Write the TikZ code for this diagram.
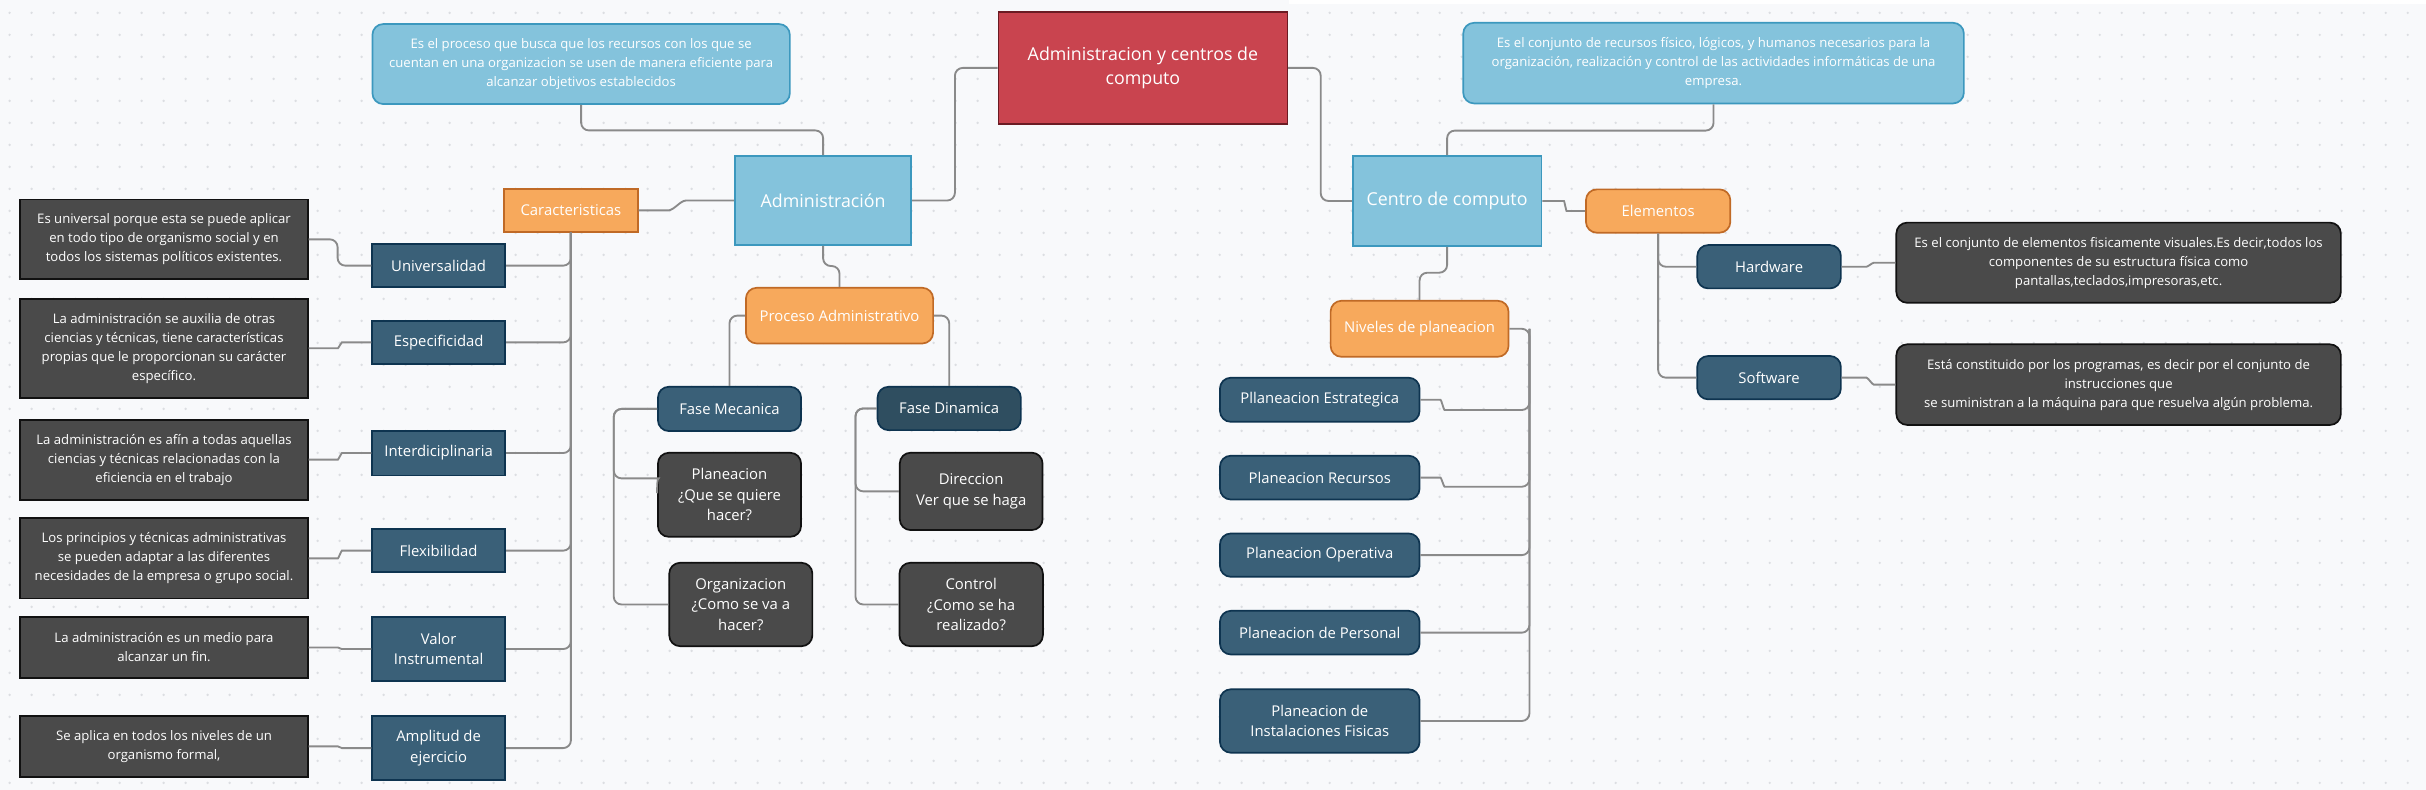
\documentclass[tikz,border=0pt]{standalone}
\usepackage{fontspec}
\setmainfont{Open Sans}
\definecolor{bgC}{HTML}{F8F9FB}
\definecolor{dotC}{HTML}{DCDEE2}
\definecolor{lbF}{HTML}{84C3DC}
\definecolor{lbD}{HTML}{3C98BE}
\definecolor{rdF}{HTML}{C9444F}
\definecolor{rdD}{HTML}{6B1B23}
\definecolor{ogF}{HTML}{F7A95C}
\definecolor{ogD}{HTML}{C06A26}
\definecolor{tlF}{HTML}{3A6078}
\definecolor{tlD}{HTML}{0E3450}
\definecolor{tdF}{HTML}{2F4E60}
\definecolor{dkF}{HTML}{4A4A4A}
\definecolor{dkD}{HTML}{111111}
\definecolor{cnC}{HTML}{8A8A8A}
\begin{document}
\begin{tikzpicture}[x=1pt,y=-1pt,
  base/.style={draw, line width=1.1pt, text=white, align=center, inner sep=1pt},
  rnd/.style={base, rounded corners=7pt},
  lb/.style={fill=lbF, draw=lbD},
  rd/.style={fill=rdF, draw=rdD},
  og/.style={fill=ogF, draw=ogD},
  tl/.style={fill=tlF, draw=tlD},
  td/.style={fill=tdF, draw=tlD},
  dk/.style={fill=dkF, draw=dkD},
  ftsmall/.style={font=\fontsize{8.5}{12.3}\selectfont},
  ftlab/.style={font=\fontsize{9.6}{13.3}\selectfont},
  ftbig/.style={font=\fontsize{11.5}{15.7}\selectfont},
  sz/.style 2 args={minimum width=#1, minimum height=#2},
  conn/.style={draw=cnC, line width=1.2pt, rounded corners=5pt}]
\useasboundingbox (0,0) rectangle (1568,510.6);
\fill[bgC] (0,0) rectangle (1568,510.6);
\fill[white] (833,0) rectangle (1568,2.5);
\foreach \i in {0,...,110}{\foreach \j in {0,...,35}{\fill[dotC] ({6.2+\i*14.22},{8.3+\j*14.22}) circle (0.85pt);}}

% top level
\node[base, rd, ftbig, sz={186.7pt}{72.7pt}] (root) at (738.7,43.9) {Administracion y centros de\\computo};
\node[rnd, lb, ftsmall, sz={269.8pt}{51.7pt}] (dl) at (375.6,41.4) {Es el proceso que busca que los recursos con los que se\\cuentan en una organizacion se usen de manera eficiente para\\alcanzar objetivos establecidos};
\node[rnd, lb, ftsmall, sz={323.6pt}{52.1pt}] (dr) at (1107.5,40.8) {Es el conjunto de recursos físico, lógicos, y humanos necesarios para la\\organización, realización y control de las actividades informáticas de una\\empresa.};
\node[base, lb, ftbig, sz={114pt}{57.6pt}] (adm) at (532,129.6) {Administración};
\node[base, lb, ftbig, sz={122pt}{58.2pt}] (centro) at (935.3,129.9) {Centro de computo};

% orange
\node[base, og, ftlab, sz={86.5pt}{27.6pt}] (car) at (369,136) {Caracteristicas};
\node[rnd, og, ftlab, sz={93.3pt}{28pt}] (elem) at (1071.7,136.4) {Elementos};
\node[rnd, og, ftlab, sz={121pt}{36pt}] (proc) at (542.6,204) {Proceso Administrativo};
\node[rnd, og, ftlab, sz={115pt}{36.2pt}] (niv) at (917.5,212.5) {Niveles de planeacion};

% left teal
\node[base, tl, ftlab, sz={86pt}{28pt}] (univ) at (283.5,171.7) {Universalidad};
\node[base, tl, ftlab, sz={86pt}{28pt}] (espec) at (283.5,221.3) {Especificidad};
\node[base, tl, ftlab, sz={86pt}{28.9pt}] (inter) at (283.5,292.8) {Interdiciplinaria};
\node[base, tl, ftlab, sz={86pt}{27.6pt}] (flex) at (283.5,355.9) {Flexibilidad};
\node[base, tl, ftlab, sz={86pt}{41pt}] (valor) at (283.5,419.5) {Valor\\Instrumental};
\node[base, tl, ftlab, sz={86pt}{41.4pt}] (ampl) at (283.5,483.5) {Amplitud de\\ejercicio};

% left dark
\node[base, dk, ftsmall, sz={185.7pt}{51.7pt}] (d1) at (106,154.7) {Es universal porque esta se puede aplicar\\en todo tipo de organismo social y en\\todos los sistemas políticos existentes.};
\node[base, dk, ftsmall, sz={185.7pt}{64pt}] (d2) at (106,225.1) {La administración se auxilia de otras\\ciencias y técnicas, tiene características\\propias que le proporcionan su carácter\\específico.};
\node[base, dk, ftsmall, sz={185.7pt}{51.7pt}] (d3) at (106,297.1) {La administración es afín a todas aquellas\\ciencias y técnicas relacionadas con la\\eficiencia en el trabajo};
\node[base, dk, ftsmall, sz={185.7pt}{51.8pt}] (d4) at (106,360.9) {Los principios y técnicas administrativas\\se pueden adaptar a las diferentes\\necesidades de la empresa o grupo social.};
\node[base, dk, ftsmall, sz={185.7pt}{39pt}] (d5) at (106,418.5) {La administración es un medio para\\alcanzar un fin.};
\node[base, dk, ftsmall, sz={185.7pt}{39.2pt}] (d6) at (106,482.4) {Se aplica en todos los niveles de un\\organismo formal,};

% proceso
\node[rnd, tl, ftlab, sz={92.5pt}{28.6pt}] (fmec) at (471.5,264.3) {Fase Mecanica};
\node[rnd, td, ftlab, sz={92.6pt}{28pt}] (fdin) at (613.5,264) {Fase Dinamica};
\node[rnd, dk, ftlab, sz={92.5pt}{54.3pt}] (pq) at (471.5,319.8) {Planeacion\\¿Que se quiere\\hacer?};
\node[rnd, dk, ftlab, sz={92.5pt}{53.9pt}] (org) at (478.8,390.7) {Organizacion\\¿Como se va a\\hacer?};
\node[rnd, dk, ftlab, sz={92.3pt}{50pt}] (dir) at (627.7,317.6) {Direccion\\Ver que se haga};
\node[rnd, dk, ftlab, sz={92.7pt}{53.9pt}] (ctrl) at (627.7,390.7) {Control\\¿Como se ha\\realizado?};

% right side
\node[rnd, tl, ftlab, sz={92.8pt}{28pt}] (hw) at (1143.4,172.4) {Hardware};
\node[rnd, tl, ftlab, sz={92.8pt}{28pt}] (sw) at (1143.4,244.1) {Software};
\node[rnd, dk, ftsmall, sz={287.3pt}{51.8pt}] (hwd) at (1369.3,169.8) {Es el conjunto de elementos fisicamente visuales.Es decir,todos los\\componentes de su estructura física como\\pantallas,teclados,impresoras,etc.};
\node[rnd, dk, ftsmall, sz={287.3pt}{52.1pt}] (swd) at (1369.3,248.6) {Está constituido por los programas, es decir por el conjunto de\\instrucciones que\\se suministran a la máquina para que resuelva algún problema.};

\node[rnd, tl, ftlab, sz={129pt}{28.5pt}] (pe) at (853,258.4) {Pllaneacion Estrategica};
\node[rnd, tl, ftlab, sz={129pt}{28.3pt}] (pr) at (853,308.7) {Planeacion Recursos};
\node[rnd, tl, ftlab, sz={129pt}{28pt}] (po) at (853,358.8) {Planeacion Operativa};
\node[rnd, tl, ftlab, sz={129pt}{28.2pt}] (pp) at (853,408.9) {Planeacion de Personal};
\node[rnd, tl, ftlab, sz={129pt}{41pt}] (pi) at (853,466) {Planeacion de\\Instalaciones Fisicas};

% connectors
\draw[conn] (root.west) -- ++(-27.6,0) |- (adm.east);
\draw[conn] (root.east) -- ++(21,0) |- (centro.west);
\draw[conn] (dl.south) -- ++(0,16.5) -| (adm.north);
\draw[conn] (dr.south) -- ++(0,17) -| (centro.north);
\draw[conn] (adm.west) -- ++(-26,0) to[out=180,in=0] ([xshift=14pt]car.east) -- (car.east);
\draw[conn] (adm.south) -- ++(0,13) -| (proc.north);

\foreach \t in {univ,espec,inter,flex,valor,ampl}{\draw[conn] (\t.east) -| (car.south);}
\draw[conn] (d1.east) -- ++(18.8,0) |- (univ.west);
\foreach \d/\t in {d2/espec,d3/inter,d4/flex,d5/valor,d6/ampl}{\draw[conn] (\d.east) -- ++(14,0) to[out=0,in=180] ([xshift=-14pt]\t.west) -- (\t.west);}

\draw[conn] (proc.west) -| (fmec.north);
\draw[conn] (proc.east) -| (fdin.north);
\draw[conn] (fmec.west) -- ++(-28,0) |- (org.west);
\draw[conn] (fmec.west) -- ++(-28,0) |- ([xshift=-4pt,yshift=10.6pt]pq.west) to[out=0,in=90] ([yshift=1pt]pq.west);
\draw[conn] (fdin.west) -- ++(-13.7,0) |- (ctrl.west);
\draw[conn] (fdin.west) -- ++(-13.7,0) |- (dir.west);

\draw[conn] (centro.south) -- ++(0,16.7) -| (niv.north);
\draw[conn] (centro.east) -- ++(9,0) to[out=0,in=180] ([xshift=-7pt]elem.west) -- (elem.west);
\draw[conn] (elem.south) |- (hw.west);
\draw[conn] (elem.south) |- (sw.west);
\draw[conn] (hw.east) -- ++(11,0) to[out=0,in=180] ([xshift=-9pt]hwd.west) -- (hwd.west);
\draw[conn] (sw.east) -- ++(11,0) to[out=0,in=180] ([xshift=-9pt]swd.west) -- (swd.west);

\coordinate (nt) at ([xshift=13pt]niv.east);
\draw[conn] (niv.east) -- (nt) |- (pi.east);
\draw[conn] (po.east) -| (nt);
\draw[conn] (pp.east) -| (nt);
\draw[conn] (pe.east) -- ++(8,0) to[out=0,in=180] ++(12.6,6.6) -| (nt);
\draw[conn] (pr.east) -- ++(8,0) to[out=0,in=180] ++(12.6,5.9) -| (nt);
\end{tikzpicture}
\end{document}
